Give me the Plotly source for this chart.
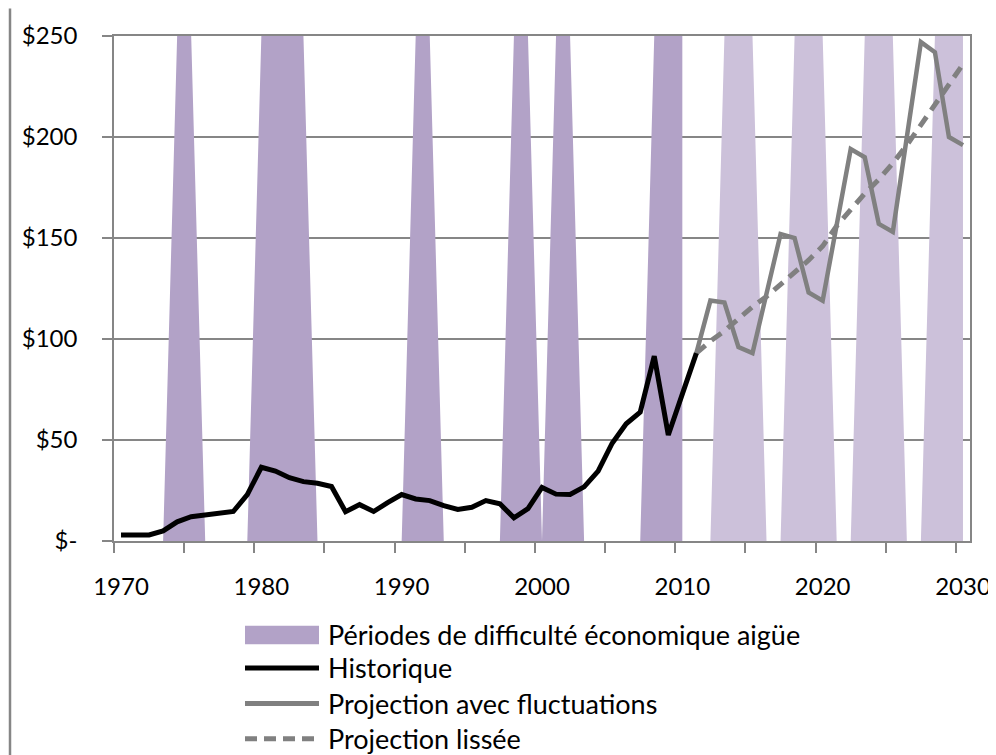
import plotly.graph_objects as go

# Historical price, 1970-2011
hist_years = list(range(1970, 2012))
hist_values = [3, 3, 3, 5, 9.5, 12, 13, 14, 14.6, 23,
               36.5, 34.6, 31.3, 29.4, 28.6, 27, 14.5, 18, 14.6, 19,
               23, 20.8, 20, 17.5, 15.6, 16.7, 20, 18.4, 11.5, 16,
               26.5, 23.2, 23, 26.8, 34.6, 48.4, 58, 63.8, 91.5, 52.5,
               72, 93]

# Projections, 2011-2030
proj_years = list(range(2011, 2031))
proj_fluct = [93, 119, 118, 96, 93, 123, 152, 150, 123, 119,
              157, 194, 190, 157, 153, 200, 247, 242, 200, 196]
proj_smooth = [93, 99, 104, 110, 116, 121, 127, 133, 139, 146,
               156, 164, 172, 179, 187, 196, 206, 216, 226, 236]

# Periods of acute economic difficulty
past_years = list(range(1970, 2011))
past_hard = [1974, 1975, 1980, 1981, 1982, 1983, 1991, 1992,
             1998, 1999, 2001, 2002, 2008, 2009, 2010]
future_years = list(range(2011, 2031))
future_hard = [2013, 2014, 2015, 2018, 2019, 2020,
               2023, 2024, 2025, 2028, 2029, 2030]
band_top = 250

past_band = [band_top if y in past_hard else 0 for y in past_years]
future_band = [band_top if y in future_hard else 0 for y in future_years]

y_ticks = [0, 50, 100, 150, 200, 250]
y_labels = ["$-", "$50", "$100", "$150", "$200", "$250"]
x_ticks = [1970, 1980, 1990, 2000, 2010, 2020, 2030]

legend_names = ["Périodes de difficulté économique aigüe", "Historique",
                "Projection avec fluctuations", "Projection lissée"]

DARK_PURPLE = "#B2A2C7"
LIGHT_PURPLE = "#CCC1DA"
GREY = "#808080"
AXIS_GREY = "#868686"
FONT = "Lato"

fig = go.Figure()

fig.add_trace(go.Scatter(x=past_years, y=past_band, mode="lines", fill="tozeroy",
                         fillcolor=DARK_PURPLE, line=dict(width=0), showlegend=False))
fig.add_trace(go.Scatter(x=future_years, y=future_band, mode="lines", fill="tozeroy",
                         fillcolor=LIGHT_PURPLE, line=dict(width=0), showlegend=False))
fig.add_trace(go.Scatter(x=proj_years, y=proj_fluct, mode="lines",
                         line=dict(color=GREY, width=4.5), showlegend=False))
fig.add_trace(go.Scatter(x=proj_years, y=proj_smooth, mode="lines",
                         line=dict(color=GREY, width=5, dash="12px,8px"), showlegend=False))
fig.add_trace(go.Scatter(x=hist_years, y=hist_values, mode="lines",
                         line=dict(color="black", width=5), showlegend=False))

# plot area in page pixels: left 114, right 970, top 28, bottom 541
# (the page body adds an 8px offset to the figure)
OFF = 8
L, R, T, B = 114, 970, 28, 541


def px(x):
    return (x - L) / (R - L)


def py(y):
    return (B - y) / (B - T)


# manual legend below the plot
sym_x0, sym_x1, text_x = 245, 319, 326
rows_y = [636, 670, 706, 742]
fig.add_shape(type="rect", xref="paper", yref="paper",
              x0=px(sym_x0), x1=px(sym_x1), y0=py(646), y1=py(627),
              fillcolor=DARK_PURPLE, line=dict(width=0))
fig.add_shape(type="line", xref="paper", yref="paper",
              x0=px(sym_x0), x1=px(sym_x1), y0=py(rows_y[1]), y1=py(rows_y[1]),
              line=dict(color="black", width=5))
fig.add_shape(type="line", xref="paper", yref="paper",
              x0=px(sym_x0), x1=px(sym_x1), y0=py(rows_y[2]), y1=py(rows_y[2]),
              line=dict(color=GREY, width=5))
fig.add_shape(type="line", xref="paper", yref="paper",
              x0=px(sym_x0), x1=px(sym_x1), y0=py(rows_y[3]), y1=py(rows_y[3]),
              line=dict(color=GREY, width=5, dash="12px,7px"))
for name, ry in zip(legend_names, rows_y):
    fig.add_annotation(text=name, xref="paper", yref="paper", x=px(text_x), y=py(ry),
                       xanchor="left", yanchor="middle", showarrow=False,
                       font=dict(family=FONT, size=27, color="black"))

# chart frame edge on the far left
fig.add_shape(type="line", xref="paper", yref="paper",
              x0=px(10), x1=px(10), y0=py(0), y1=py(770),
              line=dict(color=AXIS_GREY, width=2.5))

fig.update_xaxes(range=[1969.5, 2030.5], tickvals=x_ticks, ticks="",
                 showgrid=False, zeroline=False,
                 showline=True, linecolor=AXIS_GREY, linewidth=1.5, mirror=True,
                 minor=dict(tick0=1969.5, dtick=5, ticks="outside", ticklen=10,
                            tickcolor=AXIS_GREY, tickwidth=1.5, showgrid=False),
                 ticklabelstandoff=23,
                 tickfont=dict(family=FONT, size=24, color="black"))
fig.update_yaxes(range=[0, 250], tickvals=y_ticks, ticktext=y_labels,
                 showgrid=True, gridcolor=AXIS_GREY, gridwidth=1.5, zeroline=False,
                 showline=True, linecolor=AXIS_GREY, linewidth=1.5, mirror=True,
                 ticks="outside", ticklen=10, tickcolor=AXIS_GREY, tickwidth=1.5,
                 ticklabelstandoff=20,
                 tickfont=dict(family=FONT, size=24, color="black"))

fig.update_layout(
    width=996, height=755,
    margin=dict(l=L - OFF, r=996 - R + OFF, t=T - OFF, b=755 - B + OFF),
    paper_bgcolor="white", plot_bgcolor="white",
    showlegend=False,
)

fig.write_html("out.html")
